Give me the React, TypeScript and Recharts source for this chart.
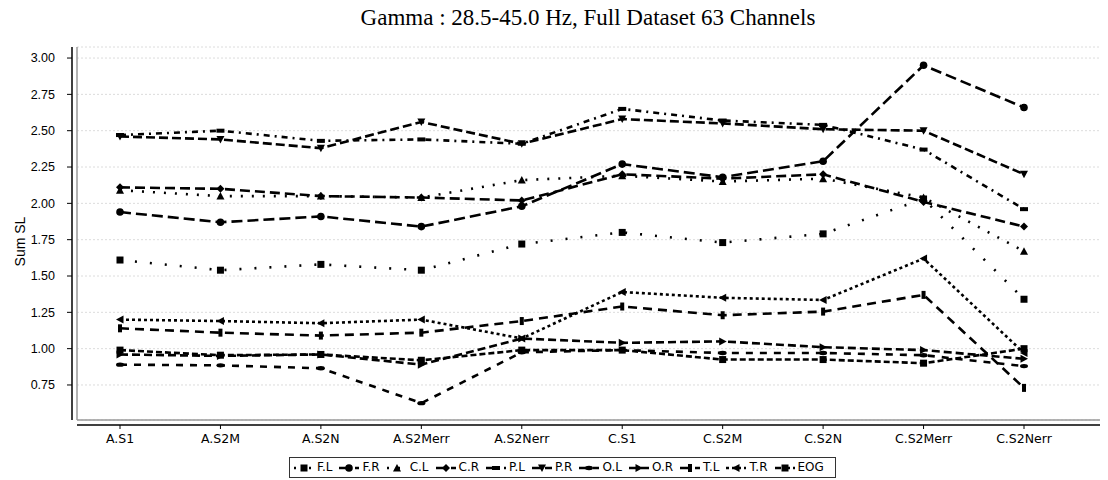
import React from 'react';
import { LineChart, Line, XAxis, YAxis, CartesianGrid, Legend } from 'recharts';

const categories = ['A.S1', 'A.S2M', 'A.S2N', 'A.S2Merr', 'A.S2Nerr', 'C.S1', 'C.S2M', 'C.S2N', 'C.S2Merr', 'C.S2Nerr'];

const valuesFL = [1.61, 1.54, 1.58, 1.54, 1.72, 1.80, 1.73, 1.79, 2.03, 1.34];
const valuesFR = [1.94, 1.87, 1.91, 1.84, 1.98, 2.27, 2.18, 2.29, 2.95, 2.66];
const valuesCL = [2.09, 2.05, 2.05, 2.04, 2.16, 2.19, 2.15, 2.17, 2.04, 1.67];
const valuesCR = [2.11, 2.10, 2.05, 2.04, 2.02, 2.20, 2.17, 2.20, 2.01, 1.84];
const valuesPL = [2.47, 2.50, 2.43, 2.44, 2.41, 2.65, 2.57, 2.54, 2.37, 1.96];
const valuesPR = [2.46, 2.44, 2.38, 2.56, 2.41, 2.58, 2.55, 2.51, 2.50, 2.20];
const valuesOL = [0.89, 0.885, 0.865, 0.625, 0.975, 0.99, 0.97, 0.97, 0.955, 0.88];
const valuesOR = [0.96, 0.95, 0.96, 0.89, 1.07, 1.04, 1.05, 1.01, 0.99, 0.93];
const valuesTL = [1.14, 1.11, 1.09, 1.11, 1.19, 1.29, 1.23, 1.255, 1.37, 0.73];
const valuesTR = [1.20, 1.19, 1.175, 1.20, 1.07, 1.39, 1.35, 1.335, 1.62, 0.97];
const valuesEOG = [0.99, 0.955, 0.96, 0.92, 0.99, 0.99, 0.925, 0.925, 0.90, 1.00];

const yTicks = [0.75, 1.0, 1.25, 1.5, 1.75, 2.0, 2.25, 2.5, 2.75, 3.0];
const yDomain = [0.509, 3.076];

const titleText = 'Gamma : 28.5-45.0 Hz, Full Dataset 63 Channels';
const yLabelText = 'Sum SL';

type Shape = 'square' | 'circle' | 'up' | 'diamond' | 'hrect' | 'down' | 'ellipse' | 'right' | 'vrect' | 'left';

const seriesDefs: { key: string; name: string; values: number[]; shape: Shape; dash: string }[] = [
  { key: 'FL', name: 'F.L', values: valuesFL, shape: 'square', dash: '2 13' },
  { key: 'FR', name: 'F.R', values: valuesFR, shape: 'circle', dash: '11 5' },
  { key: 'CL', name: 'C.L', values: valuesCL, shape: 'up', dash: '2 9' },
  { key: 'CR', name: 'C.R', values: valuesCR, shape: 'diamond', dash: '10 5' },
  { key: 'PL', name: 'P.L', values: valuesPL, shape: 'hrect', dash: '6 5 2 5' },
  { key: 'PR', name: 'P.R', values: valuesPR, shape: 'down', dash: '9 4' },
  { key: 'OL', name: 'O.L', values: valuesOL, shape: 'ellipse', dash: '7 7' },
  { key: 'OR', name: 'O.R', values: valuesOR, shape: 'right', dash: '8 4' },
  { key: 'TL', name: 'T.L', values: valuesTL, shape: 'vrect', dash: '9 6' },
  { key: 'TR', name: 'T.R', values: valuesTR, shape: 'left', dash: '3 3' },
  { key: 'EOG', name: 'EOG', values: valuesEOG, shape: 'square', dash: '6 3' },
];

const data = categories.map((cat, i) => {
  const row: Record<string, string | number> = { cat };
  seriesDefs.forEach((s) => {
    row[s.key] = s.values[i];
  });
  return row;
});

function Marker({ shape, cx, cy }: { shape: Shape; cx: number; cy: number }) {
  const s = 3.5;
  const f = '#000';
  switch (shape) {
    case 'square':
      return <rect x={cx - s} y={cy - s} width={2 * s} height={2 * s} fill={f} />;
    case 'circle':
      return <circle cx={cx} cy={cy} r={s + 0.3} fill={f} />;
    case 'up':
      return <polygon points={`${cx},${cy - s - 0.5} ${cx + s + 0.5},${cy + s} ${cx - s - 0.5},${cy + s}`} fill={f} />;
    case 'down':
      return <polygon points={`${cx},${cy + s + 0.5} ${cx + s + 0.5},${cy - s} ${cx - s - 0.5},${cy - s}`} fill={f} />;
    case 'diamond':
      return <polygon points={`${cx},${cy - s - 0.5} ${cx + s + 0.5},${cy} ${cx},${cy + s + 0.5} ${cx - s - 0.5},${cy}`} fill={f} />;
    case 'hrect':
      return <rect x={cx - s - 0.5} y={cy - 2} width={2 * s + 1} height={4} fill={f} />;
    case 'vrect':
      return <rect x={cx - 2} y={cy - s - 0.5} width={4} height={2 * s + 1} fill={f} />;
    case 'ellipse':
      return <ellipse cx={cx} cy={cy} rx={s + 0.5} ry={2.2} fill={f} />;
    case 'right':
      return <polygon points={`${cx - s},${cy - s - 0.5} ${cx + s + 0.5},${cy} ${cx - s},${cy + s + 0.5}`} fill={f} />;
    case 'left':
      return <polygon points={`${cx + s},${cy - s - 0.5} ${cx - s - 0.5},${cy} ${cx + s},${cy + s + 0.5}`} fill={f} />;
    default:
      return null;
  }
}

const makeDot = (shape: Shape) => (props: any) => {
  const { cx, cy, index } = props;
  if (cx == null || cy == null) return <g key={`d-${index}`} />;
  return (
    <g key={`d-${shape}-${index}`}>
      <Marker shape={shape} cx={cx} cy={cy} />
    </g>
  );
};

function LegendBox() {
  return (
    <div
      style={{
        marginLeft: 289,
        marginTop: 2,
        display: 'inline-flex',
        alignItems: 'center',
        border: '1px solid #333',
        padding: '2px 4px',
        fontFamily: 'DejaVu Sans',
        fontSize: 12,
        color: '#000',
        background: '#fff',
        lineHeight: '15px',
      }}
    >
      {seriesDefs.map((s) => (
        <span key={s.key} style={{ display: 'inline-flex', alignItems: 'center', marginRight: 7 }}>
          <svg width={20} height={10} style={{ marginRight: 3 }}>
            <line x1={0} y1={5} x2={20} y2={5} stroke="#000" strokeWidth={2.5} strokeDasharray={s.dash} />
            <Marker shape={s.shape} cx={10} cy={5} />
          </svg>
          <span>{s.name}</span>
        </span>
      ))}
    </div>
  );
}

const YLabel = (props: any) => {
  const vb = props.viewBox || {};
  const x = vb.x + 20;
  const y = vb.y + vb.height / 2 + 8;
  return (
    <text
      x={x}
      y={y}
      transform={`rotate(-90 ${x} ${y})`}
      textAnchor="middle"
      dominantBaseline="central"
      fontFamily="Liberation Sans"
      fontSize={14}
      fill="#000"
    >
      {yLabelText}
    </text>
  );
};

export default function App() {
  return (
    <div style={{ position: 'absolute', left: 0, top: 0, width: 1108, height: 480, background: '#fff' }}>
      <div
        style={{
          position: 'absolute',
          top: 4,
          left: 77,
          width: 1022,
          textAlign: 'center',
          fontFamily: 'Liberation Serif',
          fontSize: 23,
          color: '#000',
          lineHeight: '27px',
        }}
      >
        {titleText}
      </div>
      <LineChart width={1108} height={480} data={data} margin={{ top: 47, right: 8, bottom: 2, left: 0 }}>
        <XAxis
          xAxisId="box"
          dataKey="cat"
          height={5}
          tick={false}
          tickLine={false}
          axisLine={{ stroke: '#9a9a9a', strokeWidth: 1.5 }}
          padding={{ left: 43, right: 76 }}
        />
        <XAxis
          xAxisId="main"
          dataKey="cat"
          height={30}
          interval={0}
          padding={{ left: 43, right: 76 }}
          tickSize={4}
          tickMargin={5}
          tick={{ fill: '#000', fontSize: 12.5, fontFamily: 'DejaVu Sans' }}
          tickLine={{ stroke: '#000' }}
          axisLine={{ stroke: '#000', strokeWidth: 1.5 }}
        />
        <XAxis
          xAxisId="top"
          orientation="top"
          dataKey="cat"
          height={0}
          tick={false}
          tickLine={false}
          axisLine={{ stroke: '#9a9a9a', strokeWidth: 1.5 }}
        />
        <YAxis
          yAxisId="box"
          type="number"
          width={5}
          domain={yDomain}
          ticks={yTicks}
          allowDataOverflow
          tick={false}
          tickLine={false}
          axisLine={{ stroke: '#9a9a9a', strokeWidth: 1.5 }}
        />
        <YAxis
          yAxisId="main"
          type="number"
          width={72}
          domain={yDomain}
          ticks={yTicks}
          allowDataOverflow
          interval={0}
          tickFormatter={(v: number) => v.toFixed(2)}
          tickSize={5}
          tickMargin={12}
          tick={{ fill: '#000', fontSize: 12.5, fontFamily: 'Liberation Sans' }}
          tickLine={{ stroke: '#000' }}
          axisLine={{ stroke: '#000', strokeWidth: 1.5 }}
          label={<YLabel />}
        />
        <YAxis
          yAxisId="right"
          orientation="right"
          type="number"
          width={0}
          domain={yDomain}
          ticks={yTicks}
          allowDataOverflow
          tick={false}
          tickLine={false}
          axisLine={{ stroke: '#9a9a9a', strokeWidth: 1.5 }}
        />
        <CartesianGrid xAxisId="main" yAxisId="main" vertical={false} strokeDasharray="2 2" stroke="#dcdcdc" />
        <Legend verticalAlign="bottom" align="left" height={23} content={() => <LegendBox />} />
        {seriesDefs.map((s) => (
          <Line
            key={s.key}
            xAxisId="main"
            yAxisId="main"
            dataKey={s.key}
            name={s.name}
            stroke="#000"
            strokeWidth={2.6}
            strokeDasharray={s.dash}
            dot={makeDot(s.shape)}
            activeDot={false}
            isAnimationActive={false}
            type="linear"
          />
        ))}
      </LineChart>
    </div>
  );
}
